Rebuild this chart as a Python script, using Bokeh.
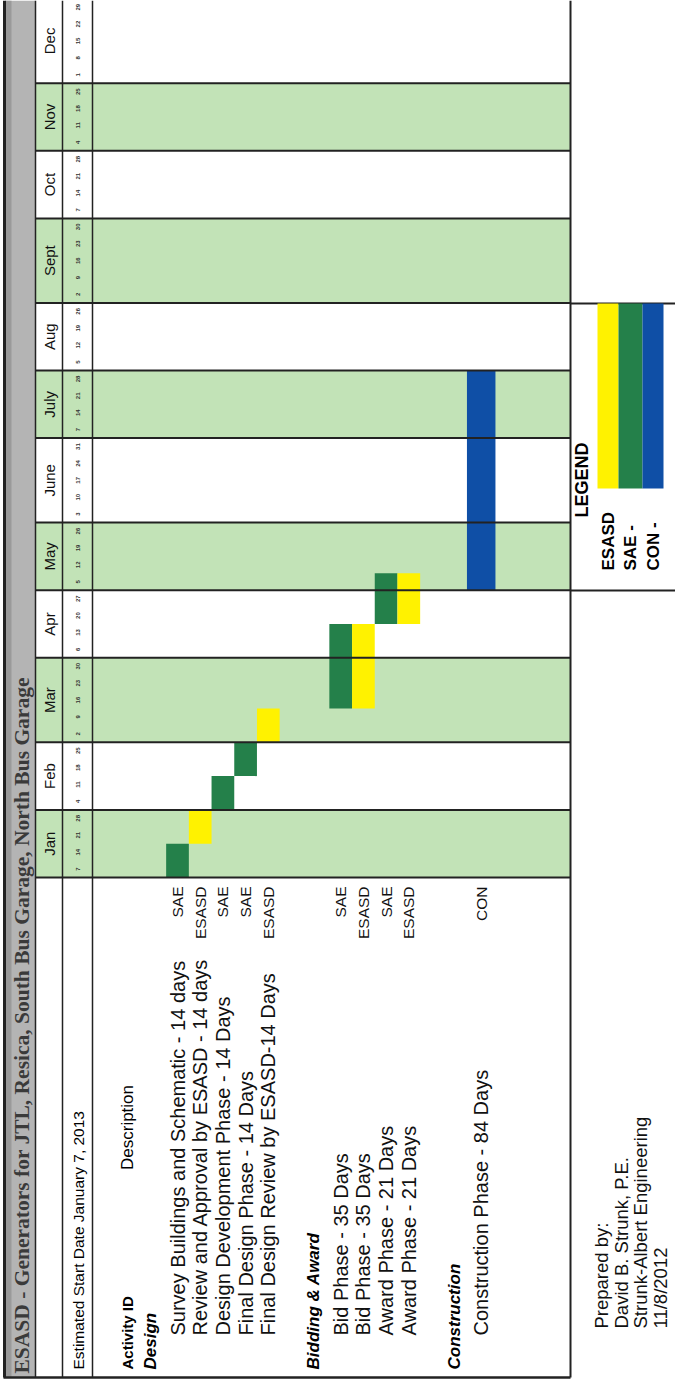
import math
from bokeh.plotting import figure
from bokeh.models import Range1d, ColumnDataSource
from bokeh.core.properties import value
from bokeh.embed import file_html
from bokeh.resources import INLINE

# ---------------- data ----------------
title = "ESASD - Generators for JTL, Resica, South Bus Garage, North Bus Garage"
months = ["Jan", "Feb", "Mar", "Apr", "May", "June", "July", "Aug", "Sept", "Oct", "Nov", "Dec"]
month_weeks = [4, 4, 5, 4, 4, 5, 4, 4, 5, 4, 4, 5]
week_days = [["7", "14", "21", "28"], ["4", "11", "18", "25"], ["2", "9", "16", "23", "30"],
             ["6", "13", "20", "27"], ["5", "12", "19", "26"], ["3", "10", "17", "24", "31"],
             ["7", "14", "21", "28"], ["5", "12", "19", "26"], ["2", "9", "16", "23", "30"],
             ["7", "14", "21", "28"], ["4", "11", "18", "25"], ["1", "8", "15", "22", "29"]]

sections = ["Design", "Bidding & Award", "Construction"]
tasks = ["Survey Buildings and Schematic - 14 days",
         "Review and Approval by ESASD - 14 days",
         "Design Development Phase - 14 Days",
         "Final Design Phase - 14 Days",
         "Final Design Review by ESASD-14 Days",
         "Bid Phase - 35 Days",
         "Bid Phase - 35 Days",
         "Award Phase - 21 Days",
         "Award Phase - 21 Days",
         "Construction Phase - 84 Days"]
task_section = [0, 0, 0, 0, 0, 1, 1, 1, 1, 2]
owners = ["SAE", "ESASD", "SAE", "SAE", "ESASD", "SAE", "ESASD", "SAE", "ESASD", "CON"]
start_week = [0, 2, 4, 6, 8, 10, 10, 15, 15, 17]     # weeks after Jan 7, 2013
dur_weeks = [2, 2, 2, 2, 2, 5, 5, 3, 3, 13]

legend_keys = ["ESASD", "SAE", "CON"]
legend_labels = ["ESASD", "SAE -", "CON -"]
start_note = "Estimated Start Date January 7, 2013"
prepared = ["Prepared by:", "David B. Strunk, P.E.", "Strunk-Albert Engineering", "11/8/2012"]

# ---------------- layout / style ----------------
W, H = 675, 1384
T0, WK = 877.0, 16.9          # page y of week 0, pixels per week
def Y(py):
    return (T0 - py) / WK

colors = {"ESASD": "#fff200", "SAE": "#24804a", "CON": "#0f4fa6"}
LIGHT = "#c2e3b7"
LINE = "#222222"
SANS = value("Liberation Sans")
SERIF = value("Liberation Serif")
UP = math.pi / 2

X_TITLE0, X_TITLE1 = 5, 35
X_MON, X_DAY, X_BODY, X_RIGHT = 35, 62, 92, 570
BOTTOM = 1377
ROW = 22.7

p = figure(width=W, height=H, x_range=Range1d(0, W), y_range=Range1d(Y(H), Y(0)),
           output_backend="svg", toolbar_location=None, min_border=0)
p.axis.visible = False
p.grid.visible = False
p.outline_line_color = None
p.background_fill_color = "white"
p.border_fill_color = "white"

# month bands
m_start = [sum(month_weeks[:i]) for i in range(12)]
m_end = [s + n for s, n in zip(m_start, month_weeks)]
green_idx = [i for i in range(12) if i % 2 == 0]
p.quad(left=X_MON, right=X_RIGHT, bottom=[m_start[i] for i in green_idx],
       top=[m_end[i] for i in green_idx], fill_color=LIGHT, line_color=None)

# title band
p.quad(left=X_TITLE0, right=X_TITLE1, bottom=Y(BOTTOM), top=Y(0),
       fill_color="#b4b4b4", line_color=None)
p.quad(left=X_TITLE0, right=X_TITLE0 + 6, bottom=Y(BOTTOM), top=Y(0),
       fill_color="#9a9a9a", line_color=None)
p.text(x=[(X_TITLE0 + X_TITLE1) / 2 + 1], y=[Y(BOTTOM - 4)], text=[title], angle=UP,
       text_align="left", text_baseline="middle", text_font=SERIF,
       text_font_style="bold", text_font_size="21.5px", text_color="#3a3a3a")

# task rows x positions (from table structure)
sec_x, task_x = [], []
x = 150.0
for s in range(len(sections)):
    sec_x.append(x)
    ks = [i for i in range(len(tasks)) if task_section[i] == s]
    for k, i in enumerate(ks):
        task_x.append(x + 27 + ROW * k)
    x = task_x[-1] + 2 * ROW

# bars
bar_w = [28.5 if o == "CON" else ROW for o in owners]
src = ColumnDataSource(dict(x=task_x, bottom=start_week,
                            top=[s + d for s, d in zip(start_week, dur_weeks)],
                            w=bar_w, c=[colors[o] for o in owners]))
p.vbar(x="x", bottom="bottom", top="top", width="w", fill_color="c", line_color=None, source=src)

# grid lines: month boundaries
bounds = [0] + m_end
p.segment(x0=X_MON, x1=X_RIGHT, y0=bounds, y1=bounds, line_color=LINE, line_width=2)
# vertical lines
p.segment(x0=[X_TITLE0 - 1, X_MON, X_DAY, X_BODY, X_RIGHT], x1=[X_TITLE0 - 1, X_MON, X_DAY, X_BODY, X_RIGHT],
          y0=Y(BOTTOM), y1=Y(0), line_color=LINE, line_width=[3, 1.5, 1.5, 1.5, 2])
p.segment(x0=X_TITLE0 - 2, x1=X_RIGHT, y0=Y(BOTTOM), y1=Y(BOTTOM), line_color=LINE, line_width=2.5)

# month labels and week numbers
p.text(x=[(X_MON + X_DAY) / 2] * 12, y=[(a + b) / 2 for a, b in zip(m_start, m_end)], text=months,
       angle=UP, text_align="center", text_baseline="middle", text_font=SANS,
       text_font_size="15px", text_color="#111111")
dx, dy, dt = [], [], []
for i in range(12):
    for k, d in enumerate(week_days[i]):
        dx.append((X_DAY + X_BODY) / 2)
        dy.append(m_start[i] + k + 0.5)
        dt.append(d)
p.text(x=dx, y=dy, text=dt, angle=UP, text_align="center", text_baseline="middle",
       text_font=SANS, text_font_style="bold", text_font_size="6px", text_color="#333333")

# left table texts
p.text(x=[(X_DAY + X_BODY) / 2 + 1], y=[Y(BOTTOM - 8)], text=[start_note], angle=UP,
       text_align="left", text_baseline="middle", text_font=SANS, text_font_size="15.5px")
p.text(x=[127], y=[Y(BOTTOM - 8)], text=["Activity ID"], angle=UP, text_align="left",
       text_baseline="middle", text_font=SANS, text_font_style="bold", text_font_size="15px")
p.text(x=[127], y=[Y(1127)], text=["Description"], angle=UP, text_align="center",
       text_baseline="middle", text_font=SANS, text_font_size="17px")
p.text(x=sec_x, y=[Y(BOTTOM - 8)] * len(sec_x), text=sections, angle=UP, text_align="left",
       text_baseline="middle", text_font=SANS, text_font_style="bold italic", text_font_size="17px")
p.text(x=task_x, y=[Y(BOTTOM - 42)] * len(tasks), text=tasks, angle=UP, text_align="left",
       text_baseline="middle", text_font=SANS, text_font_size="20px", text_color="#111111")
p.text(x=task_x, y=[Y(886)] * len(tasks), text=owners, angle=UP, text_align="right",
       text_baseline="middle", text_font=SANS, text_font_size="15.5px", text_color="#111111")

# legend box
p.segment(x0=X_RIGHT, x1=W, y0=[Y(303), Y(590)], y1=[Y(303), Y(590)], line_color=LINE, line_width=2)
lg_x = [607.5, 630, 652.5]
lg_w = [21, 24, 21]
p.vbar(x=lg_x, bottom=Y(488), top=Y(303), width=lg_w,
       fill_color=[colors[k] for k in legend_keys], line_color=None)
p.text(x=[581], y=[Y(517)], text=["LEGEND"], angle=UP, text_align="left", text_baseline="middle",
       text_font=SANS, text_font_style="bold", text_font_size="18px")
p.text(x=lg_x, y=[Y(570)] * 3, text=legend_labels, angle=UP, text_align="left",
       text_baseline="middle", text_font=SANS, text_font_style="bold", text_font_size="17px")

# prepared by
p.text(x=[601 + 19.5 * i for i in range(4)], y=[Y(1328)] * 4, text=prepared, angle=UP,
       text_align="left", text_baseline="middle", text_font=SANS, text_font_size="18.5px",
       text_color="#111111")

open("out.html", "w").write(file_html(p, INLINE))
